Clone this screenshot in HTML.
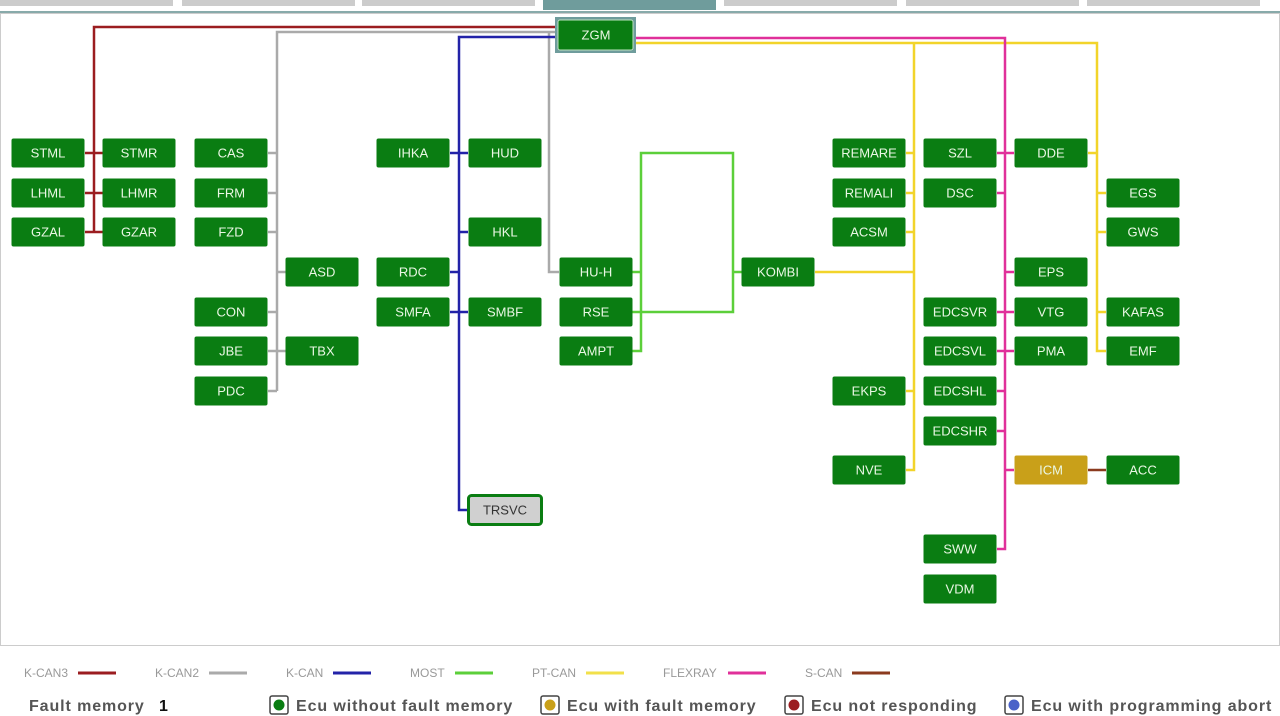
<!DOCTYPE html>
<html><head><meta charset="utf-8"><style>
body{margin:0;width:1280px;height:716px;background:#fff;overflow:hidden;font-family:"Liberation Sans",sans-serif}
svg{position:absolute;left:0;top:0}
text{font-family:"Liberation Sans",sans-serif}
.b{fill:#0a7d12}
.t{fill:#eaf7e4;font-size:13px;text-anchor:middle;dominant-baseline:central}
.lg{fill:#999;font-size:12px}
.fm{fill:#555;font-size:16px;font-weight:bold;letter-spacing:0.9px}
</style></head><body>
<svg width="1280" height="716" viewBox="0 0 1280 716">
<rect x="0" y="0" width="173" height="6" fill="#ccc"/>
<rect x="182" y="0" width="173" height="6" fill="#ccc"/>
<rect x="362" y="0" width="173" height="6" fill="#ccc"/>
<rect x="543" y="0" width="173" height="10" fill="#6f9c9c"/>
<rect x="724" y="0" width="173" height="6" fill="#ccc"/>
<rect x="906" y="0" width="173" height="6" fill="#ccc"/>
<rect x="1087" y="0" width="173" height="6" fill="#ccc"/>
<line x1="0" y1="12" x2="1280" y2="12" stroke="#8aa" stroke-width="2"/>
<rect x="0.5" y="13.5" width="1279" height="632" fill="none" stroke="#999" stroke-dasharray="1,1"/>
<g fill="none" stroke-width="2.5">
<polyline stroke="#9b1d20" points="556,27 94,27 94,232"/>
<path stroke="#9b1d20" d="M85 153H103M85 193H103M85 232H103"/>
<polyline stroke="#aaa" points="556,32 277,32 277,391"/>
<path stroke="#aaa" d="M268 153H277M268 193H277M268 232H277M277 272H286M268 312H277M268 351H286M268 391H277"/>
<polyline stroke="#aaa" points="549,32 549,272 559,272"/>
<polyline stroke="#2323a8" points="556,37 459,37 459,510 468,510"/>
<path stroke="#2323a8" d="M450 153H468M459 232H468M450 272H459M450 312H468"/>
<g stroke="#5ccf3a">
<polyline points="632,351 641,351 641,153 733,153 733,312 632,312"/>
<path d="M632 272H641M733 272H742"/>
</g>
<g stroke="#f2d42a">
<polyline points="634,43 1097,43 1097,351 1106,351"/>
<polyline points="914,43 914,470 906,470"/>
<path d="M815 272H914M906 153H914M906 193H914M906 232H914M906 391H914M1088 153H1097M1097 193H1106M1097 232H1106M1097 312H1106"/>
</g>
<g stroke="#e0309a">
<polyline points="634,38 1005,38 1005,549 997,549"/>
<path d="M997 153H1014M997 193H1005M1005 272H1014M997 312H1014M997 351H1014M997 391H1005M997 431H1005M1005 470H1014"/>
</g>
<path stroke="#8b3a1e" d="M1088 470H1106"/>
</g>
<rect x="555" y="17" width="81" height="36" fill="#6f9c9c"/>
<rect x="558" y="20" width="75" height="30" rx="2" class="b" stroke="#bfe3c0" stroke-width="1"/>
<text x="596" y="35" class="t">ZGM</text>
<g>
<rect class="b" x="11.5" y="138.5" width="73" height="29" rx="2"/><text class="t" x="48" y="153">STML</text>
<rect class="b" x="102.5" y="138.5" width="73" height="29" rx="2"/><text class="t" x="139" y="153">STMR</text>
<rect class="b" x="11.5" y="178.5" width="73" height="29" rx="2"/><text class="t" x="48" y="193">LHML</text>
<rect class="b" x="102.5" y="178.5" width="73" height="29" rx="2"/><text class="t" x="139" y="193">LHMR</text>
<rect class="b" x="11.5" y="217.5" width="73" height="29" rx="2"/><text class="t" x="48" y="232">GZAL</text>
<rect class="b" x="102.5" y="217.5" width="73" height="29" rx="2"/><text class="t" x="139" y="232">GZAR</text>
<rect class="b" x="194.5" y="138.5" width="73" height="29" rx="2"/><text class="t" x="231" y="153">CAS</text>
<rect class="b" x="194.5" y="178.5" width="73" height="29" rx="2"/><text class="t" x="231" y="193">FRM</text>
<rect class="b" x="194.5" y="217.5" width="73" height="29" rx="2"/><text class="t" x="231" y="232">FZD</text>
<rect class="b" x="285.5" y="257.5" width="73" height="29" rx="2"/><text class="t" x="322" y="272">ASD</text>
<rect class="b" x="194.5" y="297.5" width="73" height="29" rx="2"/><text class="t" x="231" y="312">CON</text>
<rect class="b" x="194.5" y="336.5" width="73" height="29" rx="2"/><text class="t" x="231" y="351">JBE</text>
<rect class="b" x="285.5" y="336.5" width="73" height="29" rx="2"/><text class="t" x="322" y="351">TBX</text>
<rect class="b" x="194.5" y="376.5" width="73" height="29" rx="2"/><text class="t" x="231" y="391">PDC</text>
<rect class="b" x="376.5" y="138.5" width="73" height="29" rx="2"/><text class="t" x="413" y="153">IHKA</text>
<rect class="b" x="468.5" y="138.5" width="73" height="29" rx="2"/><text class="t" x="505" y="153">HUD</text>
<rect class="b" x="468.5" y="217.5" width="73" height="29" rx="2"/><text class="t" x="505" y="232">HKL</text>
<rect class="b" x="376.5" y="257.5" width="73" height="29" rx="2"/><text class="t" x="413" y="272">RDC</text>
<rect class="b" x="376.5" y="297.5" width="73" height="29" rx="2"/><text class="t" x="413" y="312">SMFA</text>
<rect class="b" x="468.5" y="297.5" width="73" height="29" rx="2"/><text class="t" x="505" y="312">SMBF</text>
<rect class="b" x="559.5" y="257.5" width="73" height="29" rx="2"/><text class="t" x="596" y="272">HU-H</text>
<rect class="b" x="559.5" y="297.5" width="73" height="29" rx="2"/><text class="t" x="596" y="312">RSE</text>
<rect class="b" x="559.5" y="336.5" width="73" height="29" rx="2"/><text class="t" x="596" y="351">AMPT</text>
<rect class="b" x="741.5" y="257.5" width="73" height="29" rx="2"/><text class="t" x="778" y="272">KOMBI</text>
<rect class="b" x="832.5" y="138.5" width="73" height="29" rx="2"/><text class="t" x="869" y="153">REMARE</text>
<rect class="b" x="832.5" y="178.5" width="73" height="29" rx="2"/><text class="t" x="869" y="193">REMALI</text>
<rect class="b" x="832.5" y="217.5" width="73" height="29" rx="2"/><text class="t" x="869" y="232">ACSM</text>
<rect class="b" x="832.5" y="376.5" width="73" height="29" rx="2"/><text class="t" x="869" y="391">EKPS</text>
<rect class="b" x="832.5" y="455.5" width="73" height="29" rx="2"/><text class="t" x="869" y="470">NVE</text>
<rect class="b" x="923.5" y="138.5" width="73" height="29" rx="2"/><text class="t" x="960" y="153">SZL</text>
<rect class="b" x="923.5" y="178.5" width="73" height="29" rx="2"/><text class="t" x="960" y="193">DSC</text>
<rect class="b" x="923.5" y="297.5" width="73" height="29" rx="2"/><text class="t" x="960" y="312">EDCSVR</text>
<rect class="b" x="923.5" y="336.5" width="73" height="29" rx="2"/><text class="t" x="960" y="351">EDCSVL</text>
<rect class="b" x="923.5" y="376.5" width="73" height="29" rx="2"/><text class="t" x="960" y="391">EDCSHL</text>
<rect class="b" x="923.5" y="416.5" width="73" height="29" rx="2"/><text class="t" x="960" y="431">EDCSHR</text>
<rect class="b" x="923.5" y="534.5" width="73" height="29" rx="2"/><text class="t" x="960" y="549">SWW</text>
<rect class="b" x="923.5" y="574.5" width="73" height="29" rx="2"/><text class="t" x="960" y="589">VDM</text>
<rect class="b" x="1014.5" y="138.5" width="73" height="29" rx="2"/><text class="t" x="1051" y="153">DDE</text>
<rect class="b" x="1014.5" y="257.5" width="73" height="29" rx="2"/><text class="t" x="1051" y="272">EPS</text>
<rect class="b" x="1014.5" y="297.5" width="73" height="29" rx="2"/><text class="t" x="1051" y="312">VTG</text>
<rect class="b" x="1014.5" y="336.5" width="73" height="29" rx="2"/><text class="t" x="1051" y="351">PMA</text>
<rect fill="#c9a019" x="1014.5" y="455.5" width="73" height="29" rx="2"/><text class="t" x="1051" y="470">ICM</text>
<rect class="b" x="1106.5" y="178.5" width="73" height="29" rx="2"/><text class="t" x="1143" y="193">EGS</text>
<rect class="b" x="1106.5" y="217.5" width="73" height="29" rx="2"/><text class="t" x="1143" y="232">GWS</text>
<rect class="b" x="1106.5" y="297.5" width="73" height="29" rx="2"/><text class="t" x="1143" y="312">KAFAS</text>
<rect class="b" x="1106.5" y="336.5" width="73" height="29" rx="2"/><text class="t" x="1143" y="351">EMF</text>
<rect class="b" x="1106.5" y="455.5" width="73" height="29" rx="2"/><text class="t" x="1143" y="470">ACC</text>
<rect x="468.5" y="495.5" width="73" height="29" rx="3" fill="#d0d0d0" stroke="#0a7d12" stroke-width="3"/><text class="t" x="505" y="510" style="fill:#333">TRSVC</text>
</g>
<g>
<text class="lg" x="24" y="677">K-CAN3</text><line x1="78" y1="673" x2="116" y2="673" stroke="#9b1d20" stroke-width="3"/>
<text class="lg" x="155" y="677">K-CAN2</text><line x1="209" y1="673" x2="247" y2="673" stroke="#aaa" stroke-width="3"/>
<text class="lg" x="286" y="677">K-CAN</text><line x1="333" y1="673" x2="371" y2="673" stroke="#2323a8" stroke-width="3"/>
<text class="lg" x="410" y="677">MOST</text><line x1="455" y1="673" x2="493" y2="673" stroke="#5ccf3a" stroke-width="3"/>
<text class="lg" x="532" y="677">PT-CAN</text><line x1="586" y1="673" x2="624" y2="673" stroke="#f2e04a" stroke-width="3"/>
<text class="lg" x="663" y="677">FLEXRAY</text><line x1="728" y1="673" x2="766" y2="673" stroke="#e0309a" stroke-width="3"/>
<text class="lg" x="805" y="677">S-CAN</text><line x1="852" y1="673" x2="890" y2="673" stroke="#8b3a1e" stroke-width="3"/>
</g>
<g>
<text class="fm" x="29" y="711">Fault memory</text><text class="fm" x="159" y="711" style="fill:#111">1</text>
<rect x="270" y="696" width="18" height="18" rx="2" fill="#fff" stroke="#444" stroke-width="1.5"/><circle cx="279" cy="705" r="5.5" fill="#0a7d12"/>
<text class="fm" x="296" y="711">Ecu without fault memory</text>
<rect x="541" y="696" width="18" height="18" rx="2" fill="#fff" stroke="#444" stroke-width="1.5"/><circle cx="550" cy="705" r="5.5" fill="#c9a019"/>
<text class="fm" x="567" y="711">Ecu with fault memory</text>
<rect x="785" y="696" width="18" height="18" rx="2" fill="#fff" stroke="#444" stroke-width="1.5"/><circle cx="794" cy="705" r="5.5" fill="#9b1d20"/>
<text class="fm" x="811" y="711">Ecu not responding</text>
<rect x="1005" y="696" width="18" height="18" rx="2" fill="#fff" stroke="#444" stroke-width="1.5"/><circle cx="1014" cy="705" r="5.5" fill="#4a62c8"/>
<text class="fm" x="1031" y="711">Ecu with programming abort</text>
</g>
</svg>
</body></html>
